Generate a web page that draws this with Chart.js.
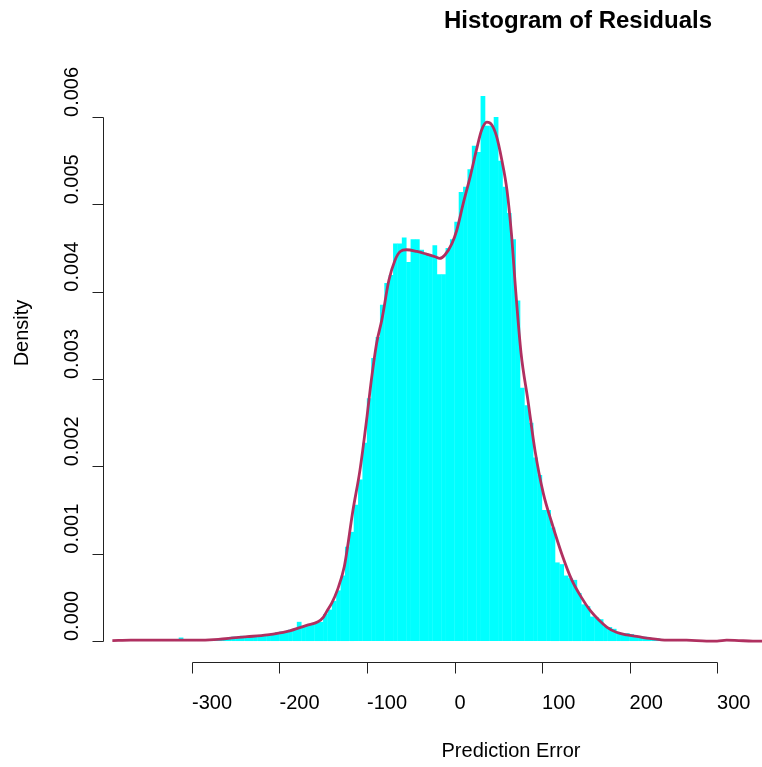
<!DOCTYPE html>
<html><head><meta charset="utf-8">
<script src="https://cdn.jsdelivr.net/npm/chart.js@4/dist/chart.umd.min.js"></script>
<style>html,body{margin:0;padding:0;background:#fff;}canvas{display:block;}</style>
</head><body>
<canvas id="c" width="762" height="767"></canvas>
<script>
const binWidth = 5;
const binStarts = [-395,-390,-385,-380,-375,-370,-365,-360,-355,-350,-345,-340,-335,-330,-325,-320,-315,-310,-305,-300,
-295,-290,-285,-280,-275,-270,-265,-260,-255,-250,-245,-240,-235,-230,-225,-220,-215,-210,-205,-200,
-195,-190,-185,-180,-175,-170,-165,-160,-155,-150,-145,-140,-135,-130,-125,-120,-115,-110,-105,-100,
-95,-90,-85,-80,-75,-70,-65,-60,-55,-50,-45,-40,-35,-30,-25,-20,-15,-10,-5,0,
5,10,15,20,25,30,35,40,45,50,55,60,65,70,75,80,85,90,95,100,
105,110,115,120,125,130,135,140,145,150,155,160,165,170,175,180,185,190,195,200,
205,210,215,220,225,230,235,240,245,250,255,260,265,270,275,280,285,290,295,300,
305,310,315,320,325,330,335,340,345];
const binDensity = [0,0.000005,0.00001,0.00001,0.00001,0.00001,0.00001,0.00001,0.000005,0.00001,0.00001,0.00001,0.00001,0.00001,0.00001,0.00001,0.00004,0.00001,0.00001,0.00001,
0.00001,0.00001,0.00001,0.00002,0.00002,0.00002,0.00003,0.00004,0.00005,0.00004,0.00006,0.00005,0.00006,0.00006,0.00007,0.00008,0.00007,0.00009,0.0001,0.00011,
0.00011,0.00013,0.00014,0.00022,0.00016,0.00018,0.0002,0.00021,0.00022,0.00031,0.00036,0.00046,0.00058,0.00075,0.00108,0.00125,0.00156,0.00185,0.00227,0.00278,
0.00324,0.00348,0.00385,0.0041,0.00419,0.00455,0.00455,0.00462,0.00434,0.0046,0.0046,0.00448,0.00444,0.00442,0.00453,0.0042,0.0042,0.0045,0.0046,0.0048,
0.00514,0.0052,0.0054,0.00567,0.0056,0.0063,0.0059,0.0059,0.006,0.0055,0.0052,0.0049,0.0046,0.0039,0.0029,0.0027,0.0025,0.0021,0.0019,0.0015,
0.0015,0.0013,0.0009,0.00088,0.00075,0.00072,0.0007,0.00055,0.00042,0.0004,0.00028,0.00027,0.00025,0.00017,0.00016,0.00014,0.0001,0.00009,0.00009,0.00008,
0.00006,0.00005,0.00005,0.00004,0.00003,0.00003,0.00002,0.00002,0.00002,0.00001,0.00001,0.00001,0.00001,0.00001,0,0.00001,0,0.00001,0,0.00001,
0.00001,0.00002,0.00001,0.00001,0,0.00001,0,0.00001,0];

const curveX = [-391,-370,-330,-300,-270,-250,-237,-214,-191,-169,-156,-150,-146,-140,-134,-126,-116,-108,-100,-95,-89,-83,-75,-68,-62,-55,-43,-32,-22,-17,-11,-3,2.5,10,18,25,31,37,42.5,48,54,60,65,70,76,84,92,101.5,111,122.5,134,145,155,165,174,185,197,210,223,243,265,288,300,311,325,341,352];
const curveY = [0.000005,0.00001,0.00001,0.00001,0.00002,0.00004,0.00005,0.00007,0.00011,0.00018,0.00022,0.00027,0.00034,0.00044,0.00058,0.00085,0.0015,0.00196,0.00257,0.00299,0.00341,0.00368,0.00413,0.00436,0.00446,0.00448,0.00446,0.00443,0.0044,0.00438,0.00442,0.00455,0.0047,0.00501,0.00532,0.00562,0.00585,0.00594,0.00591,0.00578,0.00551,0.00516,0.00467,0.0040,0.0033,0.00275,0.00218,0.00169,0.00136,0.001,0.0007,0.0005,0.00035,0.00024,0.00016,0.0001,0.00007,0.00005,0.00003,0.00001,0.00001,0,0,0.00001,0.000005,0,0];

const xTicks = [-300,-200,-100,0,100,200,300];
const xTickLabels = ["-300","-200","-100","0","100","200","300"];
const yTicks = [0,0.001,0.002,0.003,0.004,0.005,0.006];
const yTickLabels = ["0.000","0.001","0.002","0.003","0.004","0.005","0.006"];
const titleText = "Histogram of Residuals";
const xTitle = "Prediction Error";
const yTitle = "Density";

const barData = binStarts.map((s,i)=>({x:s+binWidth/2, y:binDensity[i]}));
const lineData = curveX.map((x,i)=>({x:x, y:curveY[i]}));
const FONT = '"Liberation Sans", Arial, Helvetica, sans-serif';

const rAxes = {
  id:'rAxes',
  afterDraw(chart){
    const ctx=chart.ctx, xs=chart.scales.x, ys=chart.scales.y, a=chart.chartArea;
    ctx.save();
    ctx.strokeStyle='#222'; ctx.lineWidth=1;
    const yb=Math.round(a.bottom)+0.5;
    const px=v=>Math.round(xs.getPixelForValue(v))+0.5;
    const py=v=>Math.round(ys.getPixelForValue(v))+0.5;
    ctx.beginPath();
    ctx.moveTo(px(xTicks[0]),yb); ctx.lineTo(px(xTicks[xTicks.length-1]),yb);
    xTicks.forEach(t=>{ctx.moveTo(px(t),yb); ctx.lineTo(px(t),yb+11);});
    const xl=Math.round(a.left)+0.5;
    ctx.moveTo(xl,py(yTicks[0])); ctx.lineTo(xl,py(yTicks[yTicks.length-1]));
    yTicks.forEach(t=>{ctx.moveTo(xl,py(t)); ctx.lineTo(xl-11,py(t));});
    ctx.stroke();
    ctx.fillStyle='#000';
    ctx.font='20px '+FONT;
    ctx.textBaseline='middle';
    ctx.textAlign='left';
    xTicks.forEach((t,i)=>ctx.fillText(xTickLabels[i], xs.getPixelForValue(t), 703));
    yTicks.forEach((t,i)=>{ctx.save(); ctx.translate(72, ys.getPixelForValue(t)); ctx.rotate(-Math.PI/2); ctx.fillText(yTickLabels[i],0,0); ctx.restore();});
    ctx.textAlign='center';
    ctx.fillText(xTitle, 511, 751);
    ctx.save(); ctx.translate(22,333); ctx.rotate(-Math.PI/2); ctx.fillText(yTitle,0,0); ctx.restore();
    ctx.font='bold 24px '+FONT;
    ctx.fillText(titleText, 578, 21);
    ctx.restore();
  }
};

new Chart(document.getElementById('c'), {
  type:'bar',
  data:{datasets:[
    {type:'line', data:lineData, borderColor:'#B03060', borderWidth:2.8, pointRadius:0, fill:false, cubicInterpolationMode:'monotone', order:0},
    {type:'bar', data:barData, backgroundColor:'#00FFFF', borderWidth:0, barPercentage:1.08, categoryPercentage:1, grouped:false, order:1}
  ]},
  options:{
    responsive:false, animation:false,
    layout:{padding:{left:103,right:0,top:96,bottom:105}},
    plugins:{legend:{display:false}, tooltip:{enabled:false}},
    scales:{
      x:{type:'linear', min:-401.7, max:351.4, offset:false, display:false},
      y:{type:'linear', min:-0.00024, max:0.00624, display:false}
    }
  },
  plugins:[rAxes]
});
</script>
</body></html>
